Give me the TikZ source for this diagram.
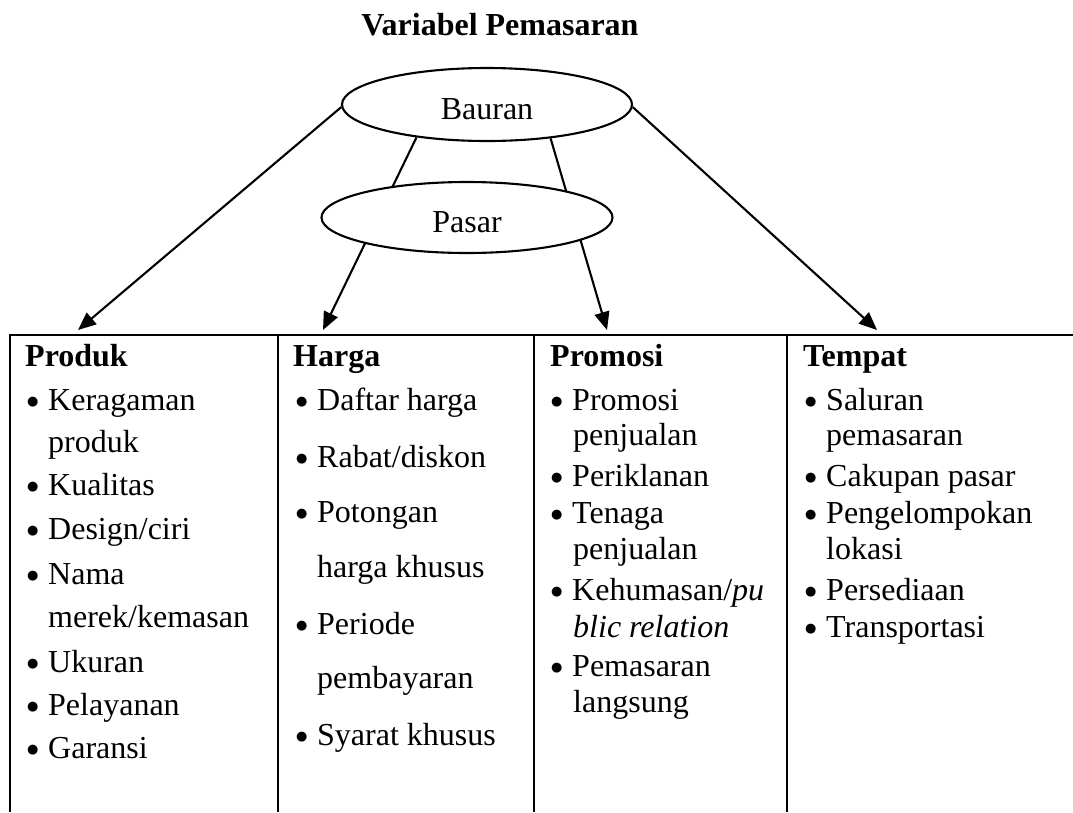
\documentclass[tikz,border=0pt]{standalone}
\usepackage{fontspec}
\setmainfont{Liberation Serif}
\newfontfamily\dotfont{DejaVu Sans}
\usetikzlibrary{shapes.geometric,arrows.meta}
\newcommand\bul{\makebox[21pt][l]{\raisebox{4.5pt}{\dotfont\fontsize{13}{13}\selectfont ●}}}
\newcommand\bitem[4]{\node[txt] (#1) at (#2,#3) {\bul#4};}
\newcommand\litem[4]{\node[txt] (#1) at (#2,#3) {#4};}
\begin{document}
\begin{tikzpicture}[x=1pt,y=-1pt,
  font=\fontsize{32}{38}\selectfont,
  txt/.style={anchor=base west, inner sep=0pt, text height=22pt, text depth=7pt},
  head/.style={anchor=base west, inner sep=0pt, text height=22pt, text depth=7pt,
    font=\fontsize{32}{38}\selectfont\bfseries},
  ell/.style={ellipse, draw, line width=2.1pt, inner sep=0pt, fill=white,
    text height=30pt, text depth=0pt},
  conn/.style={line width=2.1pt, -{Triangle[length=18pt,width=15pt]}},
  rule/.style={line width=2.7pt}]
\useasboundingbox (0,0) rectangle (1073,812);

\node[anchor=base, inner sep=0pt, font=\fontsize{32}{38}\selectfont\bfseries] (title) at (500,35) {Variabel Pemasaran};

\node[ell, minimum width=290pt, minimum height=73pt] (bauran) at (487,104.5) {Bauran};

\coordinate (tProduk) at (78,330);
\coordinate (tHarga) at (323,330);
\coordinate (tPromosi) at (607,330);
\coordinate (tTempat) at (877,330);

\draw[conn] (bauran.181) -- (tProduk);
\draw[conn] (bauran.205) -- (tHarga);
\draw[conn] (bauran.332) -- (tPromosi);
\draw[conn] (bauran.359) -- (tTempat);

\node[ell, minimum width=291pt, minimum height=71pt] (pasar) at (467,217.5) {Pasar};

% table
\draw[rule] (10,812) -- (10,335) -- (1073,335);
\draw[rule] (278,335) -- (278,812);
\draw[rule] (534,335) -- (534,812);
\draw[rule] (787,335) -- (787,812);

% Produk
\node[head] (hProduk) at (25,366) {Produk};
\bitem{p1}{27}{410}{Keragaman}
\litem{p1b}{48}{452}{produk}
\bitem{p2}{27}{495}{Kualitas}
\bitem{p3}{27}{539}{Design/ciri}
\bitem{p4}{27}{584}{Nama}
\litem{p4b}{48}{627}{merek/kemasan}
\bitem{p5}{27}{672}{Ukuran}
\bitem{p6}{27}{715}{Pelayanan}
\bitem{p7}{27}{758}{Garansi}

% Harga
\node[head] (hHarga) at (293,366) {Harga};
\bitem{h1}{296}{410}{Daftar harga}
\bitem{h2}{296}{467}{Rabat/diskon}
\bitem{h3}{296}{522}{Potongan}
\litem{h3b}{317}{577}{harga khusus}
\bitem{h4}{296}{634}{Periode}
\litem{h4b}{317}{688}{pembayaran}
\bitem{h5}{296}{745}{Syarat khusus}

% Promosi
\node[head] (hPromosi) at (550,366) {Promosi};
\bitem{r1}{551}{410}{Promosi}
\litem{r1b}{573}{445}{penjualan}
\bitem{r2}{551}{486}{Periklanan}
\bitem{r3}{551}{523}{Tenaga}
\litem{r3b}{573}{559}{penjualan}
\bitem{r4}{551}{600}{Kehumasan/\textit{pu}}
\litem{r4b}{573}{637}{\textit{blic relation}}
\bitem{r5}{551}{676}{Pemasaran}
\litem{r5b}{573}{712}{langsung}

% Tempat
\node[head] (hTempat) at (803,366) {Tempat};
\bitem{t1}{805}{410}{Saluran}
\litem{t1b}{826}{445}{pemasaran}
\bitem{t2}{805}{486}{Cakupan pasar}
\bitem{t3}{805}{523}{Pengelompokan}
\litem{t3b}{826}{559}{lokasi}
\bitem{t4}{805}{600}{Persediaan}
\bitem{t5}{805}{637}{Transportasi}
\end{tikzpicture}
\end{document}
